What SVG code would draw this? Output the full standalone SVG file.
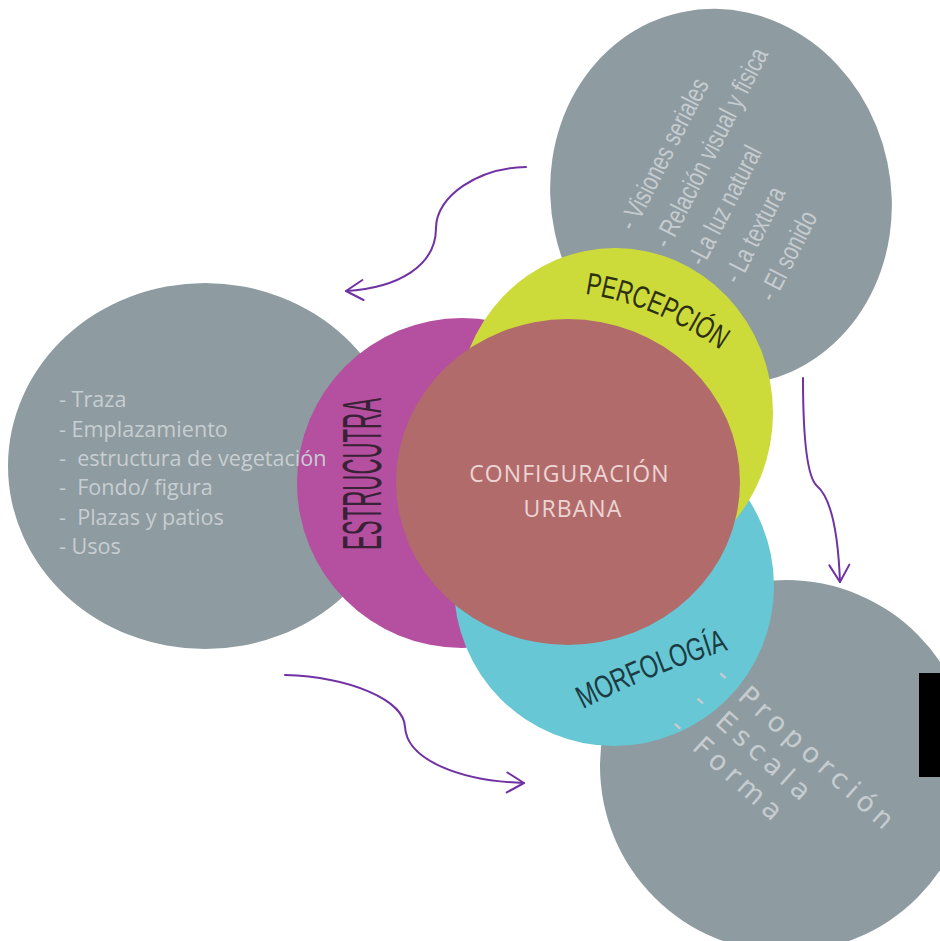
<svg xmlns="http://www.w3.org/2000/svg" width="940" height="941" viewBox="0 0 940 941">
<defs>
<style>
.gray{fill:#8e9ba0}
.list{fill:#c7ced2;font-family:"Open Sans","Liberation Sans",sans-serif}
.cond{font-family:"Liberation Sans",Arial,sans-serif}
.wide{fill:#c5ccd0;font-family:"DejaVu Sans","Liberation Sans",sans-serif}
.conn{fill:none;stroke:#7032a3;stroke-width:2;stroke-linecap:round}
</style>
<marker id="chev" markerUnits="userSpaceOnUse" viewBox="0 0 18 22" refX="17" refY="11" markerWidth="18" markerHeight="22" orient="auto" overflow="visible">
<path d="M0,1 L17,11 L0,21" fill="none" stroke="#7032a3" stroke-width="2" stroke-linecap="round" stroke-linejoin="round"/>
</marker>
<path id="pPer" d="M585,294 Q652,303 722,351 L760,386"/>
<path id="pMor" d="M583,709 Q661,669 739,647 L783,636"/>
</defs>
<rect width="940" height="941" fill="#ffffff"/>

<g id="node-percepcion-list">
<ellipse class="gray" cx="721" cy="197" rx="170" ry="189" transform="rotate(-12 721 197)"/>
</g>
<g id="node-estructura-list">
<ellipse class="gray" cx="205" cy="466" rx="197" ry="183"/>
</g>
<g id="node-morfologia-list">
<circle class="gray" cx="786" cy="766" r="186"/>
</g>

<g id="node-estructura">
<circle cx="462" cy="483" r="165" fill="#b54fa0"/>
<text class="cond" transform="translate(381,550) rotate(-90)" font-size="55" textLength="152" lengthAdjust="spacingAndGlyphs" fill="#3a2236">ESTRUCUTRA</text>
</g>
<g id="node-morfologia">
<circle cx="614" cy="586" r="160" fill="#67c7d4"/>
<text class="cond" font-size="32" fill="#1c3a41"><textPath href="#pMor" textLength="157" lengthAdjust="spacingAndGlyphs">MORFOLOGÍA</textPath></text>
</g>
<g id="node-percepcion">
<ellipse cx="615" cy="413" rx="158" ry="165" fill="#cddb3a"/>
<text class="cond" font-size="31" fill="#2c2f12"><textPath href="#pPer" textLength="148" lengthAdjust="spacingAndGlyphs">PERCEPCIÓN</textPath></text>
</g>
<g id="node-configuracion">
<ellipse cx="568" cy="482" rx="172" ry="163" fill="#b26b6b"/>
<text font-family="'Open Sans','Liberation Sans',sans-serif" font-size="23" letter-spacing="1.1" text-anchor="middle" fill="#ecd5d3">
<tspan x="573" y="482">CONFIGURACIÓN</tspan>
<tspan x="573" y="517">URBANA</tspan>
</text>
</g>

<g id="text-percepcion-list" class="cond" fill="#c5ccd0" font-size="27" transform="translate(634,232) rotate(-63)">
<text x="0" y="0" textLength="166" lengthAdjust="spacingAndGlyphs">- Visiones seriales</text>
<text x="0" y="39" textLength="220" lengthAdjust="spacingAndGlyphs">- Relación visual y fisica</text>
<text x="0" y="78" textLength="130" lengthAdjust="spacingAndGlyphs">-La luz natural</text>
<text x="0" y="117.5" textLength="104" lengthAdjust="spacingAndGlyphs">- La textura</text>
<text x="0" y="157" textLength="97" lengthAdjust="spacingAndGlyphs">- El sonido</text>
</g>
<g id="text-estructura-list" class="list" font-size="21.6">
<text x="59" y="407">- Traza</text>
<text x="59" y="436.5">- Emplazamiento</text>
<text x="59" y="466" xml:space="preserve">-  estructura de vegetación</text>
<text x="59" y="495" xml:space="preserve">-  Fondo/ figura</text>
<text x="59" y="524.5" xml:space="preserve">-  Plazas y patios</text>
<text x="59" y="554">- Usos</text>
</g>
<g id="text-morfologia-list" class="wide" font-size="27.5" letter-spacing="5.8" transform="translate(714,678) rotate(42)">
<text x="0" y="0">- Proporción</text>
<text x="0" y="34">- Escala</text>
<text x="0" y="68">- Forma</text>
</g>

<rect x="919" y="673" width="21" height="104" fill="#000000"/>

<g id="connectors">
<path class="conn" marker-end="url(#chev)" d="M526,167 C478,168 436,196 436,228 C436,266 398,288 346,291"/>
<path class="conn" marker-end="url(#chev)" d="M285,675 C350,677 404,700 405,727 C407,760 460,781 524,783"/>
<path class="conn" marker-end="url(#chev)" d="M803,378 C803,440 808,478 817,486 C830,497 838,530 840,582"/>
</g>
</svg>
